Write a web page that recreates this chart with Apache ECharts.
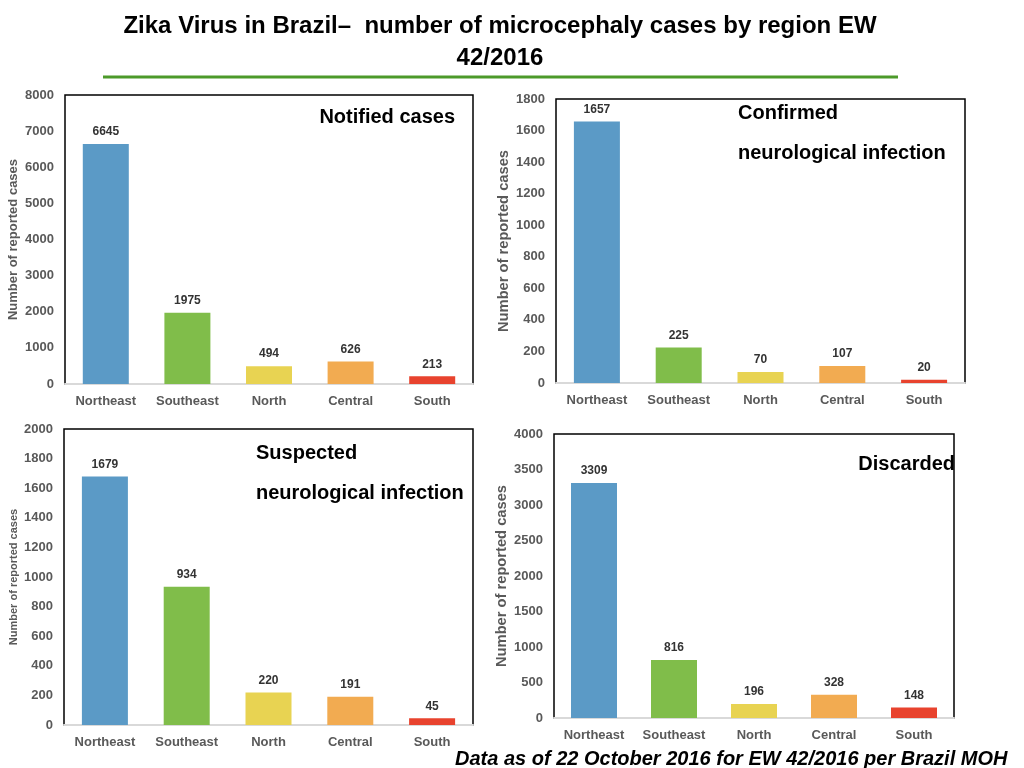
<!DOCTYPE html>
<html>
<head>
<meta charset="utf-8">
<title>Zika Virus in Brazil - microcephaly cases by region</title>
<script src="https://cdn.jsdelivr.net/npm/echarts@6/dist/echarts.min.js"></script>
<style>
  html, body { margin: 0; padding: 0; background: #fff; }
  #chart { width: 1024px; height: 768px; }
</style>
</head>
<body>
<div id="chart"></div>
<script>
// categories
const regions = ['Northeast', 'Southeast', 'North', 'Central', 'South'];

// case counts per region
const notified = [6645, 1975, 494, 626, 213];
const confirmed = [1657, 225, 70, 107, 20];
const suspected = [1679, 934, 220, 191, 45];
const discarded = [3309, 816, 196, 328, 148];

// axis ranges
const yMax = [8000, 1800, 2000, 4000];
const yStep = [1000, 200, 200, 500];

const regionColors = ['#5b9ac6', '#80bd4a', '#e8d352', '#f2ab51', '#e8432e'];
const font = 'Liberation Sans, Arial, Helvetica, sans-serif';

// plot boxes of the four panels
const grids = [
  {left: 65, top: 95, width: 408, height: 289},
  {left: 556, top: 99, width: 409, height: 284},
  {left: 64, top: 429, width: 409, height: 296},
  {left: 554, top: 434, width: 400, height: 284}
];
const nameStyle = [
  {size: 13, weight: 'bold'},
  {size: 14.7, weight: 'bold'},
  {size: 11, weight: 'bold'},
  {size: 14.7, weight: 'bold'}
];
const seriesData = [notified, confirmed, suspected, discarded];

function note(text, x, y, align) {
  return {
    type: 'text', x: x, y: y,
    style: {
      text: text, font: 'bold 20px ' + font, fill: '#000',
      align: align || 'left', verticalAlign: 'middle'
    }
  };
}

let option = {
  animation: false,
  color: regionColors,
  textStyle: {fontFamily: font},
  grid: grids.map(g => Object.assign({
    show: true,
    borderColor: '#000',
    borderWidth: 1.5,
    backgroundColor: 'transparent',
    containLabel: false
  }, g)),
  xAxis: grids.map((g, i) => ({
    type: 'category',
    gridIndex: i,
    data: regions,
    axisTick: {show: false},
    axisLine: {lineStyle: {color: '#d9d9d9', width: 2}},
    axisLabel: {
      interval: 0,
      color: '#595959', fontSize: 13, fontWeight: 'bold',
      fontFamily: font, margin: 11
    }
  })),
  yAxis: grids.map((g, i) => ({
    type: 'value',
    gridIndex: i,
    min: 0,
    max: yMax[i],
    interval: yStep[i],
    splitLine: {show: false},
    axisLine: {show: false},
    axisTick: {show: false},
    axisLabel: {
      color: '#595959', fontSize: 13, fontWeight: 'bold',
      fontFamily: font, margin: 11,
      formatter: v => String(v)
    },
    name: 'Number of reported cases',
    nameLocation: 'middle',
    nameGap: 45,
    nameTextStyle: {
      color: '#595959', fontSize: nameStyle[i].size,
      fontWeight: nameStyle[i].weight, fontFamily: font
    }
  })),
  series: seriesData.map((d, i) => ({
    type: 'bar',
    xAxisIndex: i,
    yAxisIndex: i,
    data: d,
    colorBy: 'data',
    barWidth: 46,
    label: {
      show: true,
      position: 'top',
      distance: 6,
      color: '#333',
      fontSize: 12,
      fontWeight: 'bold',
      fontFamily: font
    }
  })),
  graphic: [
    // title
    {
      type: 'text', x: 500, y: 10,
      style: {
        text: 'Zika Virus in Brazil\u2013  number of microcephaly cases by region EW\n42/2016',
        font: 'bold 24px ' + font, fill: '#000', align: 'center', lineHeight: 32
      }
    },
    {
      type: 'line',
      shape: {x1: 103, y1: 77, x2: 898, y2: 77},
      style: {stroke: '#4c9a2a', lineWidth: 3}
    },
    // panel labels
    note('Notified cases', 455, 117, 'right'),
    note('Confirmed', 738, 113),
    note('neurological infection', 738, 153),
    note('Suspected', 256, 453),
    note('neurological infection', 256, 493),
    note('Discarded', 955, 464, 'right'),
    // source note
    {
      type: 'text', x: 455, y: 749,
      style: {
        text: 'Data as of 22 October 2016 for EW 42/2016 per Brazil MOH',
        font: 'italic bold 20px ' + font, fill: '#000'
      }
    }
  ]
};

const myChart = echarts.init(document.getElementById('chart'));
myChart.setOption(option);
</script>
</body>
</html>
